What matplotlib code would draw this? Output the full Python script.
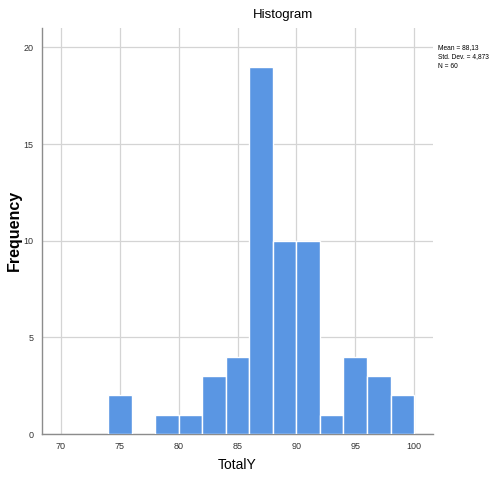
import matplotlib.pyplot as plt
import numpy as np

# bin edges and counts
bin_edges = [74, 76, 78, 80, 82, 84, 86, 88, 90, 92, 94, 96, 98, 100]
counts = [2, 0, 1, 1, 3, 4, 19, 10, 10, 1, 4, 3, 2]
x_ticks = [70, 75, 80, 85, 90, 95, 100]
y_ticks = [0, 5, 10, 15, 20]
stats = ["Mean = 88,13", "Std. Dev. = 4,873", "N = 60"]

plt.rcParams['font.family'] = ['Liberation Sans', 'DejaVu Sans']

fig = plt.figure(figsize=(4.96, 4.83), dpi=100)
ax = fig.add_axes([42 / 496, 49 / 483, 391 / 496, 406 / 483])

edges = np.array(bin_edges, dtype=float)
ax.bar(edges[:-1], counts, width=np.diff(edges), align='edge',
       color='#5a96e3', edgecolor='white', linewidth=1.0, zorder=3)

ax.set_xlim(68.4, 101.6)
ax.set_ylim(0, 21.0)
ax.set_xticks(x_ticks)
ax.set_yticks(y_ticks)
ax.grid(True, color='#d4d4d4', linewidth=0.9, zorder=0)
ax.tick_params(length=0, labelsize=6.5, colors='#333333', pad=6)

for s in ['top', 'right']:
    ax.spines[s].set_visible(False)
for s in ['left', 'bottom']:
    ax.spines[s].set_color('#8c8c8c')
    ax.spines[s].set_linewidth(1.0)

fig.text(283 / 496, 1 - 15 / 483, "Histogram", ha='center', va='center', fontsize=9.5)
fig.text(237 / 496, 1 - 465 / 483, "TotalY", ha='center', va='center', fontsize=10)
fig.text(14 / 496, 1 - 230 / 483, "Frequency", ha='center', va='center',
         rotation=90, fontsize=11.5, weight='bold')
fig.text(438 / 496, 1 - 57 / 483, "\n".join(stats), ha='left', va='center',
         fontsize=4.8, linespacing=1.55)

fig.savefig('out.png', dpi=100)
